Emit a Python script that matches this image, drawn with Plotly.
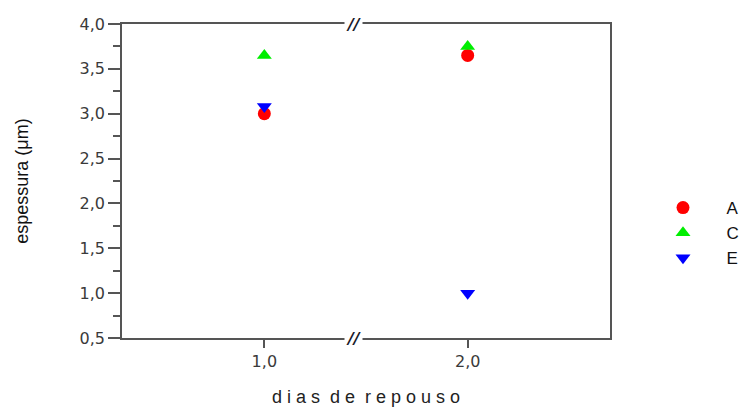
import plotly.graph_objects as go

# espessura medida por amostra após dias de repouso
dias = [1.0, 2.0]
amostra_a = [3.0, 3.65]
amostra_c = [3.65, 3.75]
amostra_e = [3.08, 1.0]

series = [
    ("A", amostra_a, "#ff0000", "circle"),
    ("C", amostra_c, "#00ee00", "triangle-up"),
    ("E", amostra_e, "#0000ff", "triangle-down"),
]

NBSP = "\u00a0"

fig = go.Figure()
for nome, valores, cor, simbolo in series:
    fig.add_trace(go.Scatter(
        x=dias, y=valores, mode="markers", name=NBSP * 5 + nome,
        marker=dict(color=cor, symbol=simbolo, size=13, line=dict(width=0)),
    ))

eixo = dict(
    showline=True, linecolor="#555", linewidth=1.6, mirror=True,
    showgrid=False, zeroline=False, ticks="outside", tickcolor="#555",
    tickwidth=1.6, tickformat=".1f", automargin=False,
    tickfont=dict(family="DejaVu Sans", size=16, color="#3a3a3a"),
)

fig.update_layout(
    width=746, height=407,
    margin=dict(l=122, r=136, t=24, b=69, autoexpand=False),
    paper_bgcolor="white", plot_bgcolor="white",
    separators=",.",
    font=dict(family="Liberation Sans, Arial", color="#222"),
    xaxis=dict(eixo, range=[0.3, 2.7], tickvals=dias, ticklen=8,
               title=dict(text="d i a s  d e  r e p o u s o", standoff=21,
                          font=dict(size=18, color="#222"))),
    yaxis=dict(eixo, range=[0.5, 4.0], dtick=0.5, ticklen=12,
               minor=dict(dtick=0.25, ticklen=7, ticks="outside",
                          tickcolor="#555", tickwidth=1.6),
               title=dict(text="espessura (μm)", standoff=46,
                          font=dict(size=18, color="#111"))),
    legend=dict(xref="container", yref="container", x=663 / 746,
                y=1 - 233 / 407, xanchor="left", yanchor="middle",
                font=dict(size=17, color="#111"), itemwidth=30,
                tracegroupgap=0, bgcolor="rgba(0,0,0,0)"),
)

# quebra de escala no eixo x
for yb in (0, 1):
    fig.add_annotation(
        x=1.44, y=yb, xref="x", yref="paper", text="<b><i>//</i></b>",
        showarrow=False, bgcolor="white", borderpad=1,
        xanchor="center", yanchor="middle",
        font=dict(family="DejaVu Sans", size=16, color="#1a1a2a"),
    )

fig.write_html("out.html")
